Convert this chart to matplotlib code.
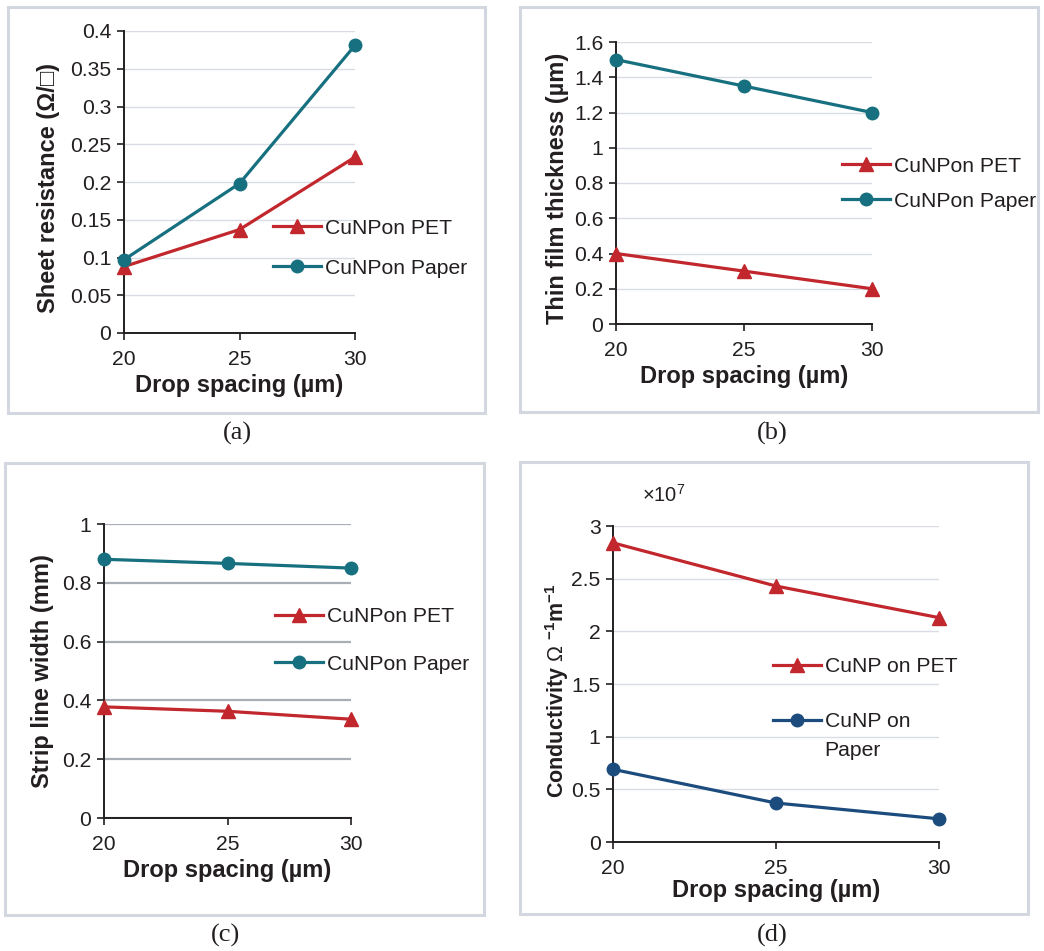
import numpy as np
import matplotlib
matplotlib.use("Agg")
import matplotlib.pyplot as plt
from matplotlib.patches import Rectangle
from matplotlib.ticker import FuncFormatter

plt.rcParams['font.family'] = ['Liberation Sans', 'DejaVu Sans']
plt.rcParams['mathtext.fontset'] = 'custom'
plt.rcParams['mathtext.rm'] = 'Liberation Sans'
plt.rcParams['mathtext.bf'] = 'Liberation Sans:bold'
plt.rcParams['mathtext.it'] = 'Liberation Sans:italic'

# data
spacing = [20, 25, 30]
sheet_pet = [0.088, 0.137, 0.233]
sheet_paper = [0.097, 0.198, 0.381]
thick_pet = [0.40, 0.30, 0.20]
thick_paper = [1.50, 1.35, 1.20]
width_pet = [0.378, 0.363, 0.336]
width_paper = [0.880, 0.866, 0.850]
cond_pet = [2.84e7, 2.43e7, 2.13e7]
cond_paper = [0.69e7, 0.37e7, 0.22e7]

red = '#c1272d'
teal = '#17707f'
navy = '#1c4c7e'
txt = '#231f20'
FS = 15.2

W, H = 1044, 951
fig = plt.figure(figsize=(W / 100, H / 100), dpi=100)


def px_axes(l, r, t, b):
    return fig.add_axes([l / W, 1 - b / H, (r - l) / W, (b - t) / H])


def frame(l, r, t, b):
    fig.patches.append(Rectangle((l / W, 1 - b / H), (r - l) / W, (b - t) / H,
                                 transform=fig.transFigure, fill=False,
                                 ec='#d3d7df', lw=2.2))


def style(ax, yticks, grid_c='#d9dce3', grid_lw=1.0, xlpad=4):
    ax.set_xlim(20, 30)
    ax.set_xticks(spacing)
    ax.set_ylim(yticks[0], yticks[-1])
    ax.set_yticks(yticks)
    ax.yaxis.set_major_formatter(FuncFormatter(lambda v, p: '%g' % v))
    for s in ['top', 'right']:
        ax.spines[s].set_visible(False)
    for s in ['left', 'bottom']:
        ax.spines[s].set_linewidth(1.4)
        ax.spines[s].set_color(txt)
        ax.spines[s].set_zorder(1)
    ax.tick_params(direction='out', length=5, width=1.2, color=txt,
                   labelsize=FS, labelcolor=txt)
    ax.tick_params(axis='x', pad=7)
    ax.tick_params(axis='y', pad=4)
    ax.yaxis.grid(True, color=grid_c, lw=grid_lw)
    ax.set_axisbelow(True)
    ax.set_xlabel('Drop spacing (µm)', fontsize=17, fontweight='bold',
                  color=txt, labelpad=xlpad)


def ylab(ax, text, x, y=0.5, size=17):
    ax.set_ylabel(text, fontsize=size, fontweight='bold', color=txt)
    ax.yaxis.label.set_va('center')
    ax.yaxis.set_label_coords(x, y)


def plot_pair(ax, pet, paper, c2, lab1, lab2):
    ax.plot(spacing, pet, color=red, lw=2.3, marker='^', ms=10.5,
            label=lab1, clip_on=False, zorder=3)
    ax.plot(spacing, paper, color=c2, lw=2.3, marker='o', ms=9,
            label=lab2, clip_on=False, zorder=3)


def legend(ax, x, y, spacing_):
    ax.legend(loc='upper left', bbox_to_anchor=(x / W, 1 - y / H),
              bbox_transform=fig.transFigure, frameon=False, fontsize=FS,
              handlelength=2.27, handletextpad=0.2, labelspacing=spacing_,
              borderpad=0, borderaxespad=0, labelcolor=txt)


def caption(x, y, s):
    fig.text(x / W, 1 - y / H, s, family='Liberation Serif', fontsize=19,
             ha='center', va='center', color=txt)


# (a)
frame(8, 485, 7, 413)
ax = px_axes(124, 355, 31, 333)
plot_pair(ax, sheet_pet, sheet_paper, teal, 'CuNPon PET', 'CuNPon Paper')
style(ax, [0, 0.05, 0.1, 0.15, 0.2, 0.25, 0.3, 0.35, 0.4])
ylab(ax, 'Sheet resistance (Ω/□)', -0.329, 0.48)
legend(ax, 273, 218.5, 1.0)
caption(237, 433, '(a)')

# (b)
frame(520, 1038, 7, 412)
ax = px_axes(616, 872, 42, 324)
plot_pair(ax, thick_pet, thick_paper, teal, 'CuNPon PET', 'CuNPon Paper')
style(ax, [0, 0.2, 0.4, 0.6, 0.8, 1, 1.2, 1.4, 1.6])
ylab(ax, 'Thin film thickness (µm)', -0.227, 0.482)
legend(ax, 842, 156.5, 0.76)
caption(772, 433, '(b)')

# (c)
frame(5, 484, 463, 915)
ax = px_axes(104, 351, 524, 818)
plot_pair(ax, width_pet, width_paper, teal, 'CuNPon PET', 'CuNPon Paper')
style(ax, [0, 0.2, 0.4, 0.6, 0.8, 1], grid_c='#a9aeb6', grid_lw=1.6)
ylab(ax, 'Strip line width (mm)', -0.251, 0.5)
legend(ax, 275, 607.5, 1.33)
caption(226, 935, '(c)')

# (d)
frame(520, 1028, 462, 914)
ax = px_axes(613, 939, 526, 842)
plot_pair(ax, cond_pet, cond_paper, navy, 'CuNP on PET', 'CuNP on')
style(ax, [0, 0.5e7, 1e7, 1.5e7, 2e7, 2.5e7, 3e7], xlpad=1)
ax.yaxis.set_major_formatter(FuncFormatter(lambda v, p: '%g' % (v / 1e7)))
ylab(ax, r'Conductivity $\mathrm{\Omega}$ $^{\mathbf{-1}}\mathbf{m}^{\mathbf{-1}}$',
     -0.172, 0.478, size=15.5)
ax.text(0.09, 1.1, r'×10$^{7}$', transform=ax.transAxes, fontsize=14.5,
        color=txt, va='center')
legend(ax, 773, 657.5, 1.7)
fig.text(824 / W, 1 - 750 / H, 'Paper', fontsize=FS, color=txt,
         ha='left', va='center')
caption(772, 935, '(d)')

fig.savefig('out.png', dpi=100)
